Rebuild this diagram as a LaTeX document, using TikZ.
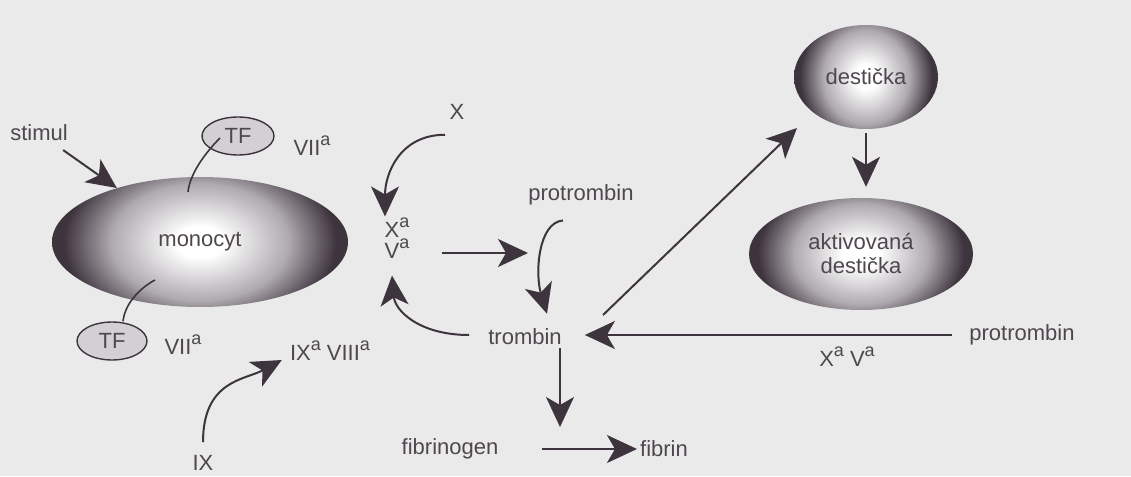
\documentclass[tikz,border=0pt]{standalone}
\usepackage{fontspec}
\setmainfont{Liberation Sans}
\usetikzlibrary{shapes.geometric,arrows.meta}
\definecolor{ink}{RGB}{62,52,62}
\definecolor{txt}{RGB}{78,72,78}
\definecolor{bg}{RGB}{234,234,234}
\definecolor{tffill}{RGB}{210,208,210}
\newcommand\ssa{\raisebox{10pt}{\fontsize{18}{18}\selectfont a}}
\pgfdeclareradialshading{cellshade}{\pgfpoint{0bp}{0bp}}{color(0bp)=(white); color(4bp)=(white); color(15bp)=(ink!42!white); color(23bp)=(ink); color(50bp)=(ink)}
\begin{document}
\begin{tikzpicture}[x=1pt,y=-1pt,
  lbl/.style={text=txt, font=\fontsize{22}{21}\selectfont, inner sep=3pt, align=center},
  cell/.style 2 args={ellipse, inner sep=0pt, minimum width=#1, minimum height=#2,
     text=txt, font=\fontsize{22}{24}\selectfont, align=center,
     path picture={\shade[shading=cellshade] (path picture bounding box.center) ellipse [x radius=#1/2, y radius=0.75*#2];}},
  tfnode/.style 2 args={ellipse, draw=ink, line width=1.4pt, fill=tffill, inner sep=0pt,
     minimum width=#1, minimum height=#2, text=txt, font=\fontsize{22}{22}\selectfont},
  arr/.style={draw=ink, line width=2pt, -{Stealth[length=30pt,width=28pt,inset=8pt]}},
  thinline/.style={draw=ink, line width=1.6pt}
]
\useasboundingbox (0,0) rectangle (1131,476);
\fill[bg] (0,0) rectangle (1131,476);

% cells
\node[cell={296pt}{130pt}] (mono) at (200,242) {monocyt};
\node[cell={144pt}{104pt}] (destic) at (866,77) {destička};
\node[cell={224pt}{112pt}] (aktiv) at (861,254) {aktivovaná\\destička};

% tissue factor
\node[tfnode={72pt}{38pt}] (tf1) at (238,136) {TF};
\node[tfnode={70pt}{38pt}] (tf2) at (112,341) {TF};

% labels
\node[lbl] (stimul) at (39,133) {stimul};
\node[lbl] (vii1) at (312,146) {VII\ssa};
\node[lbl] (vii2) at (183,345) {VII\ssa};
\node[lbl] (ixa) at (330,351) {IX\ssa\ VIII\ssa};
\node[lbl] (ix) at (203,463) {IX};
\node[lbl] (X) at (457,112) {X};
\node[lbl] (xava) at (397,238) {X\ssa\\V\ssa};
\node[lbl] (protr1) at (581,195) {protrombin};
\node[lbl] (trombin) at (525,337) {trombin};
\node[lbl] (protr2) at (1022,335) {protrombin};
\node[lbl] (xava2) at (847,357) {X\ssa\ V\ssa};
\node[lbl] (fibrinogen) at (450,449) {fibrinogen};
\node[lbl] (fibrin) at (664,449) {fibrin};

\coordinate (r1) at (528,253);
\coordinate (r2) at (560,427);

% connectors
\draw[arr, shorten <=10pt] (stimul) -- (mono.147);
\draw[thinline] ([shift={(-18,2)}]tf1.center) .. controls +(-12,12) and +(2,-20) .. ([shift={(-12,-50)}]mono.center);
\draw[thinline] ([shift={(-45,38)}]mono.center) .. controls +(-15,8) and +(2,-18) .. ([shift={(11,0)}]tf2.north);
\draw[arr] ([shift={(0,-10)}]ix.north) .. controls +(0,-62) and +(-37,20) .. ([shift={(-5,9)}]ixa.west);
\draw[arr] ([shift={(-12,12)}]X.south) .. controls +(-45,0) and +(0,-43) .. ([shift={(-12,2)}]xava.north);
\draw[arr] ([shift={(-16,-2)}]trombin.west) .. controls +(-50,0) and +(3,35) .. ([shift={(-5,14)}]xava.south);
\draw[arr] ([shift={(29,15)}]xava.east) -- (r1);
\draw[arr] ([shift={(-18,12)}]protr1.south) .. controls +(-25,2) and +(-12,-40) .. ([shift={(22,-12)}]trombin.north);
\draw[arr, shorten <=14pt, shorten >=20pt] (protr2.west) -- (trombin.east |- protr2.west);
\draw[arr] ([shift={(78,-22)}]trombin.center) -- ([shift={(-69,51)}]destic.center);
\draw[arr, shorten <=4pt, shorten >=11pt] (destic.south) -- (destic.south |- aktiv.north);
\draw[arr] ([shift={(35,0)}]trombin.south) -- (r2);
\draw[arr, shorten <=40pt] (fibrinogen.east) -- (fibrinogen.east -| fibrin.west);
\end{tikzpicture}
\end{document}
